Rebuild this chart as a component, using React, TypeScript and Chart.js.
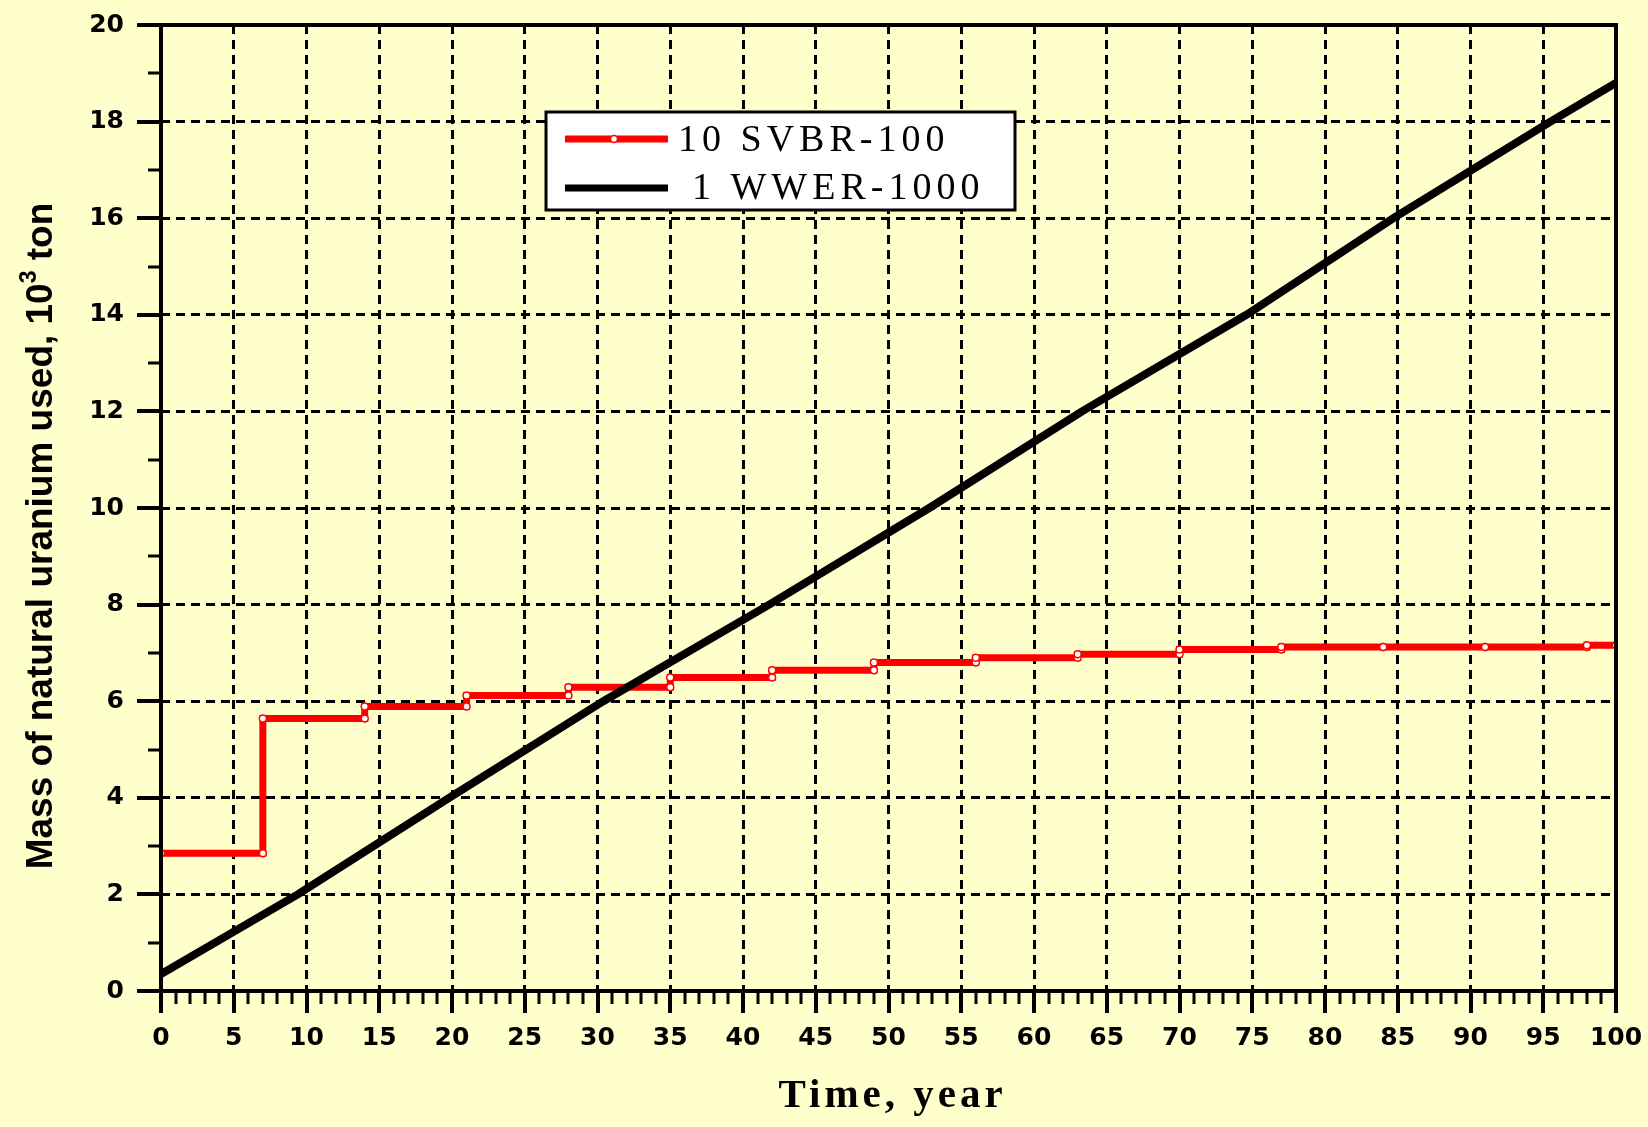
import React, { useEffect, useRef } from 'react';
import { Chart, registerables } from 'chart.js';

Chart.register(...registerables);

// ---- data ----
const wwerYears = [0, 9.4, 19.8, 30.4, 41.8, 52.8, 63.3, 74.6, 84.7, 95.5, 100];
const wwerMass = [0.35, 2, 4, 6, 8, 10, 12, 14, 16, 18, 18.8];

const svbrStepYears = [0, 7, 14, 21, 28, 35, 42, 49, 56, 63, 70, 77, 84, 91, 98];
const svbrStepMass = [2.85, 5.64, 5.89, 6.12, 6.29, 6.49, 6.64, 6.8, 6.9, 6.97, 7.07, 7.12, 7.12, 7.12, 7.16];
const svbrEndYear = 100;

const seriesLabels = ['10 SVBR-100', '1 WWER-1000'];
const xTitle = 'Time, year';
const yTitleMain = 'Mass of natural uranium used, 10';
const yTitleSup = '3';
const yTitleTail = ' ton';

const X_MIN = 0, X_MAX = 100, X_STEP = 5;
const Y_MIN = 0, Y_MAX = 20, Y_STEP = 2;

const BG = '#FFFFCC';

function buildStepPoints() {
  const pts: { x: number; y: number }[] = [];
  for (let i = 0; i < svbrStepYears.length; i++) {
    const x0 = svbrStepYears[i];
    const x1 = i + 1 < svbrStepYears.length ? svbrStepYears[i + 1] : svbrEndYear;
    pts.push({ x: x0, y: svbrStepMass[i] });
    pts.push({ x: x1, y: svbrStepMass[i] });
  }
  return pts;
}

const decorPlugin = {
  id: 'decor',
  beforeDraw(chart: any) {
    const { ctx, width, height } = chart;
    ctx.save();
    ctx.fillStyle = BG;
    ctx.fillRect(0, 0, width, height);
    ctx.restore();
  },
  afterDraw(chart: any) {
    const { ctx, chartArea } = chart;
    const xs = chart.scales.x;
    const ys = chart.scales.y;
    const { left, right, top, bottom } = chartArea;
    ctx.save();
    ctx.strokeStyle = '#000';
    ctx.setLineDash([]);
    // frame
    ctx.lineWidth = 4;
    ctx.strokeRect(left, top, right - left, bottom - top);
    // x ticks
    for (let v = X_MIN; v <= X_MAX; v++) {
      const px = Math.round(xs.getPixelForValue(v));
      const major = v % X_STEP === 0;
      ctx.lineWidth = major ? 4 : 3;
      ctx.beginPath();
      ctx.moveTo(px, bottom);
      ctx.lineTo(px, bottom + (major ? 22 : 13));
      ctx.stroke();
    }
    // y ticks
    for (let v = Y_MIN; v <= Y_MAX; v++) {
      const py = Math.round(ys.getPixelForValue(v));
      const major = v % Y_STEP === 0;
      ctx.lineWidth = major ? 4 : 3;
      ctx.beginPath();
      ctx.moveTo(left, py);
      ctx.lineTo(left - (major ? 24 : 13), py);
      ctx.stroke();
    }

    // y title
    ctx.fillStyle = '#000';
    ctx.save();
    ctx.translate(42, 536);
    ctx.rotate(-Math.PI / 2);
    ctx.textBaseline = 'middle';
    ctx.textAlign = 'left';
    const mainFont = 'bold 37px "Liberation Sans", Arial, sans-serif';
    const supFont = 'bold 23px "Liberation Sans", Arial, sans-serif';
    ctx.font = mainFont;
    const wMain = ctx.measureText(yTitleMain).width;
    const wTail = ctx.measureText(yTitleTail).width;
    ctx.font = supFont;
    const wSup = ctx.measureText(yTitleSup).width;
    const total = wMain + wSup + wTail;
    let sx = -total / 2;
    ctx.font = mainFont;
    ctx.fillText(yTitleMain, sx, 0);
    sx += wMain;
    ctx.font = supFont;
    ctx.fillText(yTitleSup, sx, -12);
    sx += wSup;
    ctx.font = mainFont;
    ctx.fillText(yTitleTail, sx, 0);
    ctx.restore();

    // x title
    ctx.save();
    ctx.font = 'bold 41px "Liberation Serif", "Times New Roman", serif';
    try { (ctx as any).letterSpacing = '4px'; } catch (e) {}
    ctx.textAlign = 'center';
    ctx.textBaseline = 'alphabetic';
    ctx.fillText(xTitle, (left + right) / 2 + 4, 1107);
    ctx.restore();

    // legend
    const lx = 546, ly = 112, lw = 469, lh = 98;
    ctx.save();
    ctx.fillStyle = '#FFFFFF';
    ctx.fillRect(lx, ly, lw, lh);
    ctx.lineWidth = 3;
    ctx.strokeStyle = '#000';
    ctx.strokeRect(lx, ly, lw, lh);
    const ds = chart.data.datasets;
    const redDs = ds.find((d: any) => d.label === seriesLabels[0]);
    const blackDs = ds.find((d: any) => d.label === seriesLabels[1]);
    // red sample
    ctx.lineWidth = 7;
    ctx.strokeStyle = redDs.borderColor;
    ctx.beginPath();
    ctx.moveTo(565, 139);
    ctx.lineTo(668, 139);
    ctx.stroke();
    ctx.beginPath();
    ctx.arc(614, 139, 3.5, 0, Math.PI * 2);
    ctx.fillStyle = '#fff';
    ctx.fill();
    ctx.lineWidth = 1.5;
    ctx.stroke();
    // black sample
    ctx.lineWidth = 7;
    ctx.strokeStyle = blackDs.borderColor;
    ctx.beginPath();
    ctx.moveTo(565, 188);
    ctx.lineTo(668, 188);
    ctx.stroke();
    ctx.fillStyle = '#000';
    ctx.font = '38px "Liberation Serif", "Times New Roman", serif';
    try { (ctx as any).letterSpacing = '5px'; } catch (e) {}
    ctx.textAlign = 'left';
    ctx.textBaseline = 'alphabetic';
    ctx.fillText(seriesLabels[0], 678, 151);
    ctx.fillText(seriesLabels[1], 692, 199);
    ctx.restore();

    ctx.restore();
  },
};

export default function App() {
  const canvasRef = useRef<HTMLCanvasElement | null>(null);

  useEffect(() => {
    document.body.style.margin = '0';
    document.body.style.background = BG;
    const canvas = canvasRef.current;
    if (!canvas) return;

    const tickFont = { family: '"DejaVu Sans", sans-serif', size: 25, weight: 'bold' as const };

    const chart = new Chart(canvas, {
      type: 'line',
      data: {
        datasets: [
          {
            label: seriesLabels[1],
            data: wwerYears.map((x, i) => ({ x, y: wwerMass[i] })),
            borderColor: '#000000',
            backgroundColor: '#000000',
            borderWidth: 8,
            pointRadius: 0,
            tension: 0,
            order: 0,
          },
          {
            label: seriesLabels[0],
            data: buildStepPoints(),
            borderColor: '#FF0000',
            backgroundColor: '#FF0000',
            borderWidth: 7,
            pointRadius: 3.5,
            pointBackgroundColor: '#FFFFFF',
            pointBorderColor: '#FF0000',
            pointBorderWidth: 1.5,
            tension: 0,
            order: 1,
          },
        ],
      },
      options: {
        animation: false,
        responsive: false,
        devicePixelRatio: 1,
        layout: { padding: { top: 25, right: 32, left: 0, bottom: 0 } },
        plugins: {
          legend: { display: false },
          tooltip: { enabled: false },
        },
        scales: {
          x: {
            type: 'linear',
            min: X_MIN,
            max: X_MAX,
            afterFit: (s: any) => { s.height = 136; },
            ticks: {
              stepSize: X_STEP,
              color: '#000',
              font: tickFont,
              padding: 0,
              autoSkip: false,
              maxRotation: 0,
            },
            grid: {
              color: '#000',
              lineWidth: 3,
              drawTicks: true,
              tickLength: 32,
              tickColor: 'rgba(0,0,0,0)',
            },
            border: { display: false, dash: [9, 6] },
          },
          y: {
            type: 'linear',
            min: Y_MIN,
            max: Y_MAX,
            afterFit: (s: any) => { s.width = 161; },
            ticks: {
              stepSize: Y_STEP,
              color: '#000',
              font: tickFont,
              padding: 0,
              autoSkip: false,
            },
            grid: {
              color: '#000',
              lineWidth: 3,
              drawTicks: true,
              tickLength: 37,
              tickColor: 'rgba(0,0,0,0)',
            },
            border: { display: false, dash: [9, 6] },
          },
        },
      },
      plugins: [decorPlugin],
    });

    return () => chart.destroy();
  }, []);

  return (
    <div style={{ width: 1648, height: 1127, background: BG }}>
      <canvas ref={canvasRef} width={1648} height={1127} style={{ display: 'block' }} />
    </div>
  );
}
